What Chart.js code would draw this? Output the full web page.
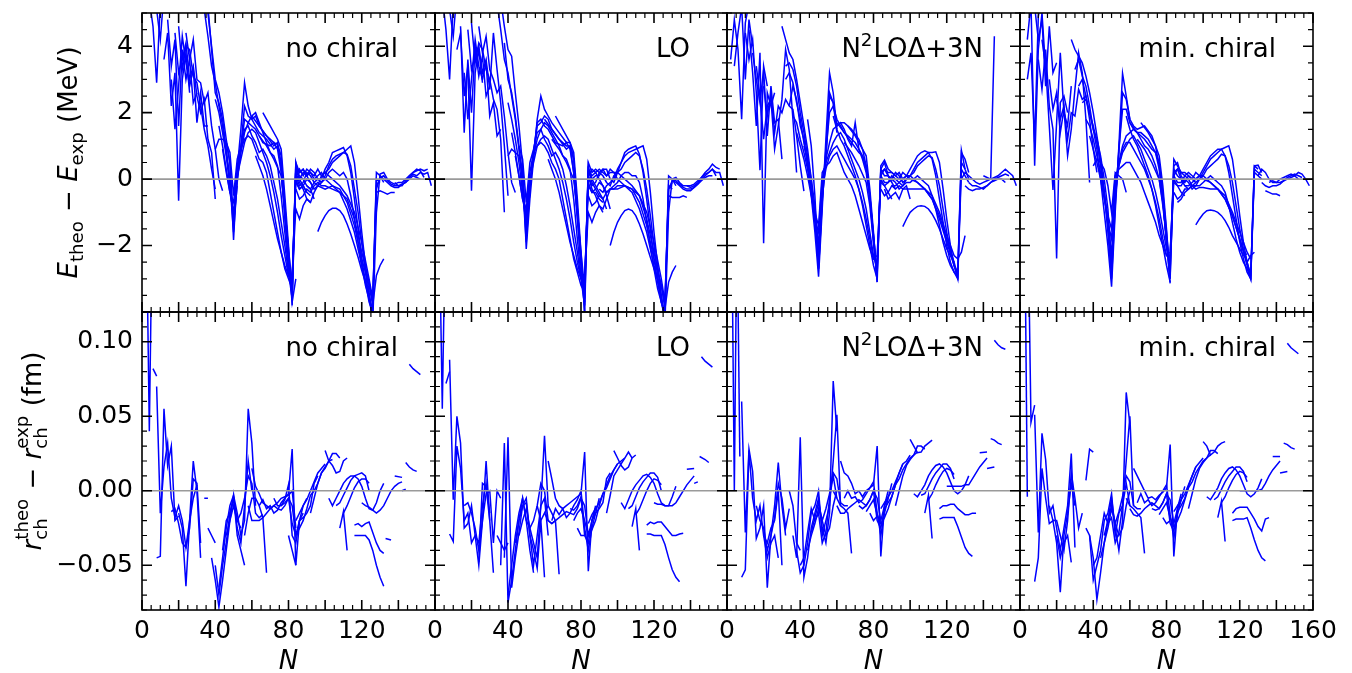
<!DOCTYPE html>
<html>
<head>
<meta charset="utf-8">
<script src="https://cdn.jsdelivr.net/npm/chart.js@4.4.1/dist/chart.umd.min.js"></script>
<style>
  html, body { margin: 0; padding: 0; background: #fff; }
  #fig { position: relative; width: 1352px; height: 673px; overflow: hidden; background: #fff; }
  #fig canvas { position: absolute; }
</style>
</head>
<body>
<div id="fig"></div>
<script>
// one label per column of panels
const panelNames = ['no chiral', 'LO', 'N^2LO\u0394+3N', 'min. chiral'];
const energyTicks = [-2, 0, 2, 4];
const radiusTicks = [-0.05, 0, 0.05, 0.10];
const nTicks = [0, 40, 80, 120];
const nTicksLast = [0, 40, 80, 120, 160];

// E_theo - E_exp (MeV): one flat list [N, value, N, value, ...] per isotopic chain
const energyNoChiral = [
  [4,5.4, 6,4.6, 8,2.9, 10,5.3, 12,5.8],
  [8,5.1, 10,4.2, 12,5.6, 14,6.0],
  [12,3.6, 14,4.4, 16,2.2, 18,3.2, 20,-0.65, 22,3.0, 24,3.8, 26,2.6],
  [14,4.8, 16,3.4, 18,4.2, 20,1.6, 22,3.9, 24,3.0, 26,3.6, 28,2.3, 30,2.6],
  [16,3.0, 18,1.5, 20,2.8, 22,4.3, 24,3.5, 26,2.8, 28,3.3, 30,1.7, 32,2.6, 34,1.6, 36,1.6],
  [18,4.4, 20,3.2, 22,3.6, 24,4.1, 26,3.0, 28,3.4, 30,2.5, 32,2.0, 34,2.4, 36,1.2, 38,0.8, 40,-0.6],
  [20,4.6, 22,3.3, 24,4.0, 26,3.9, 28,3.1, 30,2.9, 32,2.2, 34,1.5, 36,1.0, 38,0.3, 40,-0.3],
  [24,4.4, 26,3.6, 28,4.2, 30,3.0, 32,2.9, 34,2.3, 36,2.6, 38,1.6, 40,0.9, 42,0.0, 44,-0.35],
  [34,5.6, 36,5.0, 38,4.0, 40,3.0, 42,2.6, 44,2.0, 46,1.2, 48,0.5, 50,-1.83, 52,0.3, 54,1.5, 56,2.9, 58,2.2, 60,1.8, 64,1.4, 68,1.2, 72,0.9, 74,1.0, 76,0.5, 78,-0.8, 80,-2.2, 82,-3.7, 84,-3.0],
  [32,5.8, 34,5.1, 36,4.3, 38,3.4, 40,2.9, 42,2.2, 44,1.6, 46,0.8, 48,-0.1, 50,-1.6, 52,-0.1, 54,0.9, 56,1.8, 58,1.7, 60,1.6, 62,1.5, 64,1.3, 66,1.1, 68,1.05, 70,1.0, 72,1.1, 74,0.9, 76,0.2, 78,-1.0, 80,-2.4, 82,-3.4],
  [36,5.2, 38,3.9, 40,2.6, 42,2.3, 44,1.8, 46,0.9, 48,0.0, 50,-1.4, 52,0.2, 54,1.0, 56,2.2, 58,1.9, 60,1.8, 62,1.9, 64,1.6, 68,1.3, 72,1.0, 74,1.1, 76,0.3, 78,-1.2, 80,-2.5, 82,-3.5],
  [40,2.4, 42,2.0, 44,1.4, 46,0.7, 48,-0.2, 50,-1.2, 52,0.0, 54,0.8, 56,1.4, 58,1.7, 60,1.9, 62,2.0, 64,1.7, 68,1.1, 70,0.8, 72,0.7, 74,0.4, 76,-0.5, 78,-1.6, 80,-2.7, 82,-3.3, 84,0.5, 86,0.0, 88,-0.2, 90,-0.4],
  [42,1.6, 44,1.0, 46,0.3, 48,-0.4, 50,-1.0, 52,0.1, 54,0.6, 56,1.1, 58,1.4, 60,1.5, 62,1.4, 64,1.1, 66,0.8, 68,0.5, 70,0.1, 72,-0.4, 74,-1.0, 76,-1.7, 78,-2.3, 80,-2.9, 82,-3.1, 84,0.3, 86,0.1, 88,0.0, 90,-0.2, 92,-0.3, 94,-0.6],
  [44,0.9, 46,0.2, 48,-0.4, 50,-0.7, 52,0.3, 54,0.9, 56,1.2, 58,1.3, 60,1.2, 62,0.9, 64,0.6, 66,0.5, 68,0.2, 70,-0.4, 72,-1.0, 74,-1.6, 76,-2.2, 78,-2.7, 80,-3.0, 82,-3.3, 84,0.4, 86,0.2, 88,0.3, 90,0.1, 92,-0.1, 94,-0.3],
  [46,1.1, 48,0.8, 50,-0.5, 52,0.6, 54,1.0, 56,1.5, 58,1.6, 60,1.3, 62,1.1, 64,0.8, 66,0.9, 68,0.7, 70,0.4, 72,-0.1, 74,-0.6, 76,-1.3, 78,-2.0, 80,-2.8, 82,-3.6, 84,0.2, 86,-0.1, 88,-0.3, 90,-0.6, 92,-0.7],
  [40,0.9, 42,1.2, 44,1.2, 46,1.1, 48,0.5, 50,-1.3, 52,-0.2],
  [62,0.7, 64,0.4, 66,0.1, 68,-0.3, 70,-0.8, 72,-1.3, 74,-1.8, 76,-2.2, 78,-2.6, 80,-2.9, 82,-3.0, 84,0.0, 86,-0.3, 88,-0.2, 90,-0.4, 92,-0.5],
  [66,2.0, 70,1.6, 74,1.2, 76,0.9, 78,-0.5, 80,-2.0, 82,-3.8, 84,0.5, 86,0.2, 88,0.3, 90,0.1, 92,0.2, 94,0.0, 96,0.1, 98,0.2, 100,0.0, 104,-0.2, 108,-0.4, 112,-0.9, 116,-1.6, 120,-2.6, 124,-3.5, 126,-4.2],
  [60,1.9, 64,1.6, 68,1.3, 72,1.1, 74,1.05, 76,0.7, 78,-0.8, 80,-2.3, 82,-3.5, 84,0.3, 86,0.0, 88,0.2, 90,0.1, 92,0.3, 94,0.2, 96,0.0, 98,-0.1, 100,0.1, 102,0.4, 104,0.6, 106,0.7, 108,0.75, 110,0.8, 112,0.9, 114,1.0, 116,0.5, 118,-0.5, 120,-1.6, 122,-2.6, 124,-3.4, 126,-4.1],
  [64,1.3, 68,1.0, 72,0.6, 76,0.1, 78,-0.9, 80,-2.1, 82,-3.2, 84,0.1, 86,-0.2, 88,-0.1, 90,0.2, 92,0.1, 94,-0.1, 96,-0.2, 98,0.1, 100,0.2, 102,0.3, 104,0.5, 106,0.6, 108,0.7, 110,0.8, 112,0.75, 114,0.4, 116,-0.3, 118,-1.0, 120,-1.9, 122,-2.8, 124,-3.6, 126,-4.2],
  [84,0.1, 86,0.3, 88,0.1, 90,0.3, 92,0.2, 94,0.1, 96,0.3, 98,0.1, 100,0.2, 102,0.1, 104,0.0, 108,-0.2, 112,-0.5, 116,-1.0, 120,-1.9, 124,-3.0, 126,-3.6, 128,-0.2, 130,0.0],
  [90,-0.2, 92,-0.3, 94,-0.1, 96,0.0, 98,0.0, 100,0.3, 102,0.5, 104,0.8, 106,0.85, 108,0.9, 110,0.95, 112,0.7, 114,0.2, 116,-0.6, 118,-1.5, 120,-2.4, 122,-3.1, 124,-3.7, 126,-4.0],
  [84,-0.1, 86,-0.3, 88,-0.2, 90,0.0, 92,-0.1, 94,-0.3, 96,-0.2, 98,-0.1, 100,0.0, 102,0.2, 104,0.3, 106,0.2, 108,0.1, 110,0.2, 112,0.0, 114,-0.5, 116,-1.2, 118,-1.9, 120,-2.6, 122,-3.2, 124,-3.6, 126,-3.9, 128,0.2, 130,0.1, 132,-0.1],
  [84,-0.3, 86,-0.6, 88,-0.5, 90,-0.3, 92,-0.4, 94,-0.2, 96,-0.1, 98,-0.2, 100,-0.2, 104,-0.3, 108,-0.4, 112,-0.6, 116,-1.2, 120,-2.2, 124,-3.1, 126,-3.7, 128,0.0, 130,-0.1],
  [82,-2.9, 84,-0.9, 86,-1.2, 88,-0.8, 90,-0.6, 92,-0.7, 94,-0.4, 96,-0.2, 100,-0.3, 104,-0.2, 108,-0.3, 112,-0.7, 116,-1.4, 120,-2.4, 124,-3.2, 126,-3.8, 128,-2.9, 130,-2.6, 132,-2.4],
  [96,-1.58, 98,-1.3, 100,-1.1, 102,-0.95, 104,-0.88, 106,-0.88, 108,-0.95, 110,-1.1, 112,-1.35, 114,-1.65, 116,-2.0, 118,-2.35, 120,-2.75, 122,-3.1, 124,-3.4],
  [126,-4.3, 128,-1.0, 130,0.15, 132,0.2, 134,0.0, 136,-0.1, 138,-0.15, 140,-0.1, 142,-0.1, 144,0.0, 146,0.1, 148,0.2, 150,0.25, 152,0.3, 154,0.25, 156,0.3],
  [126,-3.9, 128,-0.3, 130,0.05, 132,0.1, 134,-0.05, 136,-0.15, 138,-0.2, 140,-0.2, 142,-0.15, 144,-0.1, 146,0.05, 148,0.15, 150,0.1, 152,0.2, 154,0.15, 156,0.2, 158,-0.2],
  [128,-0.4, 130,-0.35, 132,-0.4, 134,-0.45, 136,-0.4, 138,-0.4],
  [130,0.1, 132,0.0, 134,-0.1, 136,-0.2, 138,-0.25, 140,-0.25, 142,-0.15, 144,-0.1, 146,0.0, 148,0.1, 150,0.05, 152,0.0],
  [138,-0.1, 140,-0.2, 142,-0.2, 144,-0.05, 146,0.1, 148,0.2, 150,0.3, 152,0.25, 154,0.05]
];

const energyLO = [
  [4,5.5, 6,4.5, 8,3.0, 10,5.3, 12,5.9],
  [8,5.1, 10,4.3, 12,5.6, 14,6.0],
  [12,3.9, 14,4.4, 16,2.5, 18,3.4, 20,-0.35, 22,3.2, 24,3.9, 26,2.9],
  [14,4.6, 16,1.4, 18,3.6, 20,2.0, 22,4.0, 24,3.1, 26,3.7, 28,2.5, 30,2.8],
  [16,3.2, 18,1.8, 20,3.0, 22,4.2, 24,3.4, 26,3.0, 28,3.5, 30,1.9, 32,2.3, 34,1.3, 36,1.5],
  [18,4.5, 20,3.3, 22,3.7, 24,4.0, 26,3.2, 28,3.6, 30,2.7, 32,4.4, 34,3.3, 36,2.3, 38,1.0, 40,-0.5],
  [20,4.7, 22,3.5, 24,4.1, 26,3.9, 28,3.3, 30,3.0, 32,2.4, 34,2.1, 36,1.2, 38,-1.0],
  [24,4.6, 26,3.8, 28,4.3, 30,3.3, 32,3.0, 34,2.6, 36,2.8, 38,1.9, 40,0.8, 42,-0.1, 44,-0.4],
  [36,5.4, 38,4.6, 40,3.9, 42,3.7, 44,2.6, 46,1.6, 48,0.4, 50,-2.1, 52,-0.6, 54,0.6, 56,1.8, 58,2.5, 60,2.1, 62,1.9, 64,1.7, 68,1.4, 72,1.1, 74,1.1, 76,0.6, 78,-0.9, 80,-2.4, 82,-4.0],
  [32,5.9, 34,5.3, 36,4.5, 38,3.6, 40,3.2, 42,2.5, 44,1.8, 46,0.9, 48,-0.2, 50,-1.9, 52,-0.3, 54,0.8, 56,1.7, 58,1.8, 60,1.6, 62,1.5, 64,1.3, 66,1.1, 68,1.05, 70,1.0, 72,1.1, 74,0.9, 76,0.2, 78,-1.1, 80,-2.5, 82,-3.5],
  [38,4.1, 40,3.0, 42,2.6, 44,1.9, 46,1.0, 48,0.0, 50,-1.7, 52,-0.2, 54,0.8, 56,1.6, 58,1.7, 60,1.9, 62,1.8, 64,1.5, 68,1.2, 72,0.9, 74,1.0, 76,0.2, 78,-1.2, 80,-2.6, 82,-3.7],
  [40,2.3, 42,1.8, 44,1.2, 46,0.5, 48,-0.4, 50,-1.4, 52,-0.1, 54,0.7, 56,1.2, 58,1.5, 60,1.7, 62,1.6, 64,1.4, 68,1.0, 70,0.7, 72,0.6, 74,0.3, 76,-0.6, 78,-1.8, 80,-2.9, 82,-3.4, 84,0.4, 86,-0.1, 88,-0.3, 90,-0.5],
  [42,1.4, 44,0.8, 46,0.1, 48,-0.6, 50,-1.1, 52,0.0, 54,0.5, 56,1.0, 58,1.2, 60,1.3, 62,1.2, 64,0.9, 66,0.6, 68,0.3, 70,-0.1, 72,-0.6, 74,-1.2, 76,-1.9, 78,-2.5, 80,-3.0, 82,-3.2, 84,0.2, 86,0.0, 88,-0.2, 90,-0.4, 92,-0.6, 94,-0.9],
  [44,0.7, 46,0.1, 48,-0.6, 50,-0.9, 52,0.2, 54,0.8, 56,1.0, 58,1.1, 60,1.0, 62,0.8, 64,0.5, 66,0.3, 68,0.0, 70,-0.6, 72,-1.2, 74,-1.8, 76,-2.4, 78,-2.8, 80,-3.2, 82,-3.4, 84,0.3, 86,0.1, 88,0.2, 90,0.0, 92,-0.2, 94,-0.5, 96,-0.9],
  [46,1.0, 48,0.6, 50,-0.7, 52,0.5, 54,0.9, 56,1.4, 58,1.5, 60,1.2, 62,1.0, 64,0.7, 66,0.8, 68,0.6, 70,0.3, 72,-0.2, 74,-0.8, 76,-1.5, 78,-2.2, 80,-3.0, 82,-3.8, 84,0.1, 86,-0.3, 88,-0.5, 90,-0.8, 92,-1.0],
  [40,0.7, 42,0.9, 44,0.8, 46,0.7, 48,0.3, 50,-1.5, 52,-0.4],
  [62,0.6, 64,0.3, 66,0.0, 68,-0.4, 70,-0.9, 72,-1.4, 74,-1.9, 76,-2.3, 78,-2.7, 80,-3.0, 82,-3.1, 84,-0.1, 86,-0.4, 88,-0.4, 90,-0.6, 92,-0.7],
  [66,1.9, 70,1.5, 74,1.1, 76,0.8, 78,-0.6, 80,-2.2, 82,-4.1, 84,0.5, 86,0.2, 88,0.3, 90,0.2, 92,0.3, 94,0.1, 96,0.2, 98,0.2, 100,0.0, 104,-0.2, 108,-0.4, 112,-0.9, 116,-1.6, 120,-2.6, 124,-3.5, 126,-4.3],
  [60,1.8, 64,1.5, 68,1.2, 72,1.0, 74,1.0, 76,0.6, 78,-0.9, 80,-2.4, 82,-3.6, 84,0.3, 86,0.0, 88,0.1, 90,0.1, 92,0.3, 94,0.3, 96,0.0, 98,-0.1, 100,0.2, 102,0.5, 104,0.7, 106,0.8, 108,0.85, 110,0.9, 112,0.95, 114,1.0, 116,0.6, 118,-0.4, 120,-1.6, 122,-2.6, 124,-3.5, 126,-4.2],
  [64,1.2, 68,0.9, 72,0.5, 76,0.0, 78,-1.0, 80,-2.2, 82,-3.3, 84,0.1, 86,-0.2, 88,-0.1, 90,0.2, 92,0.1, 94,-0.1, 96,-0.2, 98,0.1, 100,0.2, 102,0.3, 104,0.5, 106,0.6, 108,0.7, 110,0.8, 112,0.7, 114,0.3, 116,-0.3, 118,-1.1, 120,-2.0, 122,-2.9, 124,-3.7, 126,-4.2],
  [84,0.1, 86,0.3, 88,0.2, 90,0.3, 92,0.2, 94,0.1, 96,0.3, 98,0.2, 100,0.2, 102,0.1, 104,0.0, 108,-0.2, 112,-0.5, 116,-1.0, 120,-1.9, 124,-3.0, 126,-3.7, 128,-0.3, 130,-0.1],
  [90,-0.3, 92,-0.4, 94,-0.2, 96,-0.1, 98,0.0, 100,0.3, 102,0.5, 104,0.8, 106,0.9, 108,0.95, 110,1.0, 112,0.75, 114,0.2, 116,-0.6, 118,-1.5, 120,-2.4, 122,-3.1, 124,-3.7, 126,-4.1],
  [84,-0.2, 86,-0.4, 88,-0.3, 90,-0.1, 92,-0.2, 94,-0.4, 96,-0.3, 98,-0.2, 100,-0.1, 102,0.1, 104,0.2, 106,0.2, 108,0.1, 110,0.1, 112,-0.1, 114,-0.6, 116,-1.3, 118,-2.0, 120,-2.7, 122,-3.3, 124,-3.7, 126,-4.0, 128,0.1, 130,0.0, 132,-0.2],
  [84,-0.5, 86,-0.8, 88,-0.7, 90,-0.5, 92,-0.6, 94,-0.4, 96,-0.3, 98,-0.3, 100,-0.2, 104,-0.2, 108,-0.3, 112,-0.5, 116,-1.2, 120,-2.2, 124,-3.2, 126,-3.8, 128,-0.2, 130,-0.3],
  [82,-3.0, 84,-1.0, 86,-1.3, 88,-1.0, 90,-0.8, 92,-0.9, 94,-0.6, 96,-0.3, 100,-0.3, 104,-0.2, 108,-0.3, 112,-0.7, 116,-1.4, 120,-2.4, 124,-3.2, 126,-3.9, 128,-3.1, 130,-2.8, 132,-2.6],
  [96,-2.0, 98,-1.6, 100,-1.3, 102,-1.1, 104,-0.95, 106,-0.9, 108,-0.95, 110,-1.1, 112,-1.35, 114,-1.65, 116,-2.0, 118,-2.35, 120,-2.7, 122,-3.0, 124,-3.3],
  [126,-4.3, 128,-1.0, 130,0.0, 132,0.05, 134,-0.1, 136,-0.2, 138,-0.2, 140,-0.2, 142,-0.15, 144,-0.05, 146,0.05, 148,0.2, 150,0.3, 152,0.45, 154,0.35, 156,0.3],
  [126,-3.9, 128,-0.3, 130,-0.05, 132,-0.05, 134,-0.15, 136,-0.25, 138,-0.3, 140,-0.3, 142,-0.25, 144,-0.15, 146,0.0, 148,0.1, 150,0.2, 152,0.3, 154,0.2, 156,0.2, 158,-0.2],
  [128,-0.5, 130,-0.55, 132,-0.55, 134,-0.55, 136,-0.5, 138,-0.55],
  [130,-0.05, 132,-0.1, 134,-0.2, 136,-0.3, 138,-0.35, 140,-0.35, 142,-0.25, 144,-0.15, 146,-0.05, 148,0.05, 150,0.1, 152,0.1],
  [138,-0.2, 140,-0.25, 142,-0.2, 144,-0.1, 146,0.05, 148,0.15, 150,0.2, 152,0.3, 154,0.1]
];

const energyN2LO = [
  [2,3.6, 4,4.8, 6,3.9, 8,1.8, 10,4.7, 12,5.3],
  [4,3.4, 6,4.4, 8,5.2, 10,3.0, 12,4.8, 14,4.0],
  [10,4.4, 12,3.6, 14,4.2, 16,2.6, 18,0.27, 20,3.4, 22,2.8],
  [12,4.5, 14,3.2, 16,1.6, 18,3.8, 20,-1.93, 22,2.6, 24,2.2, 26,2.6],
  [14,3.8, 16,3.0, 18,2.3, 20,3.3, 22,1.3, 24,2.8, 26,1.7, 28,1.8, 30,0.6],
  [16,3.4, 18,2.5, 20,1.2, 22,2.2, 24,2.4, 26,0.9, 28,1.6, 30,2.4, 32,3.9, 34,3.3, 36,1.8, 38,0.2],
  [20,2.8, 22,1.9, 24,2.6, 26,1.4, 28,2.2, 30,2.0, 32,2.4, 34,2.2, 36,2.1, 38,1.3, 40,0.4, 42,-0.36],
  [30,4.6, 32,4.2, 34,3.8, 36,3.6, 38,3.0, 40,2.3, 42,1.6, 44,0.9, 46,0.0, 48,-1.2, 50,-2.7, 52,-0.7, 54,0.8, 56,2.0, 58,2.2, 60,1.8, 62,1.6, 64,1.4, 66,1.3, 68,1.2, 70,1.1, 72,0.9, 74,0.7, 76,0.3, 78,-0.5, 80,-1.9, 82,-3.0],
  [32,3.4, 34,3.5, 36,3.3, 38,2.8, 40,2.0, 42,1.4, 44,0.7, 46,-0.5, 48,-1.6, 50,-2.94, 52,-0.9, 54,1.2, 56,3.2, 58,2.6, 60,1.5],
  [32,3.0, 34,3.2, 36,2.9, 38,2.3, 40,1.8, 42,1.1, 44,0.5, 46,-0.4, 48,-1.3, 50,-2.5, 52,-0.5, 54,0.9, 56,2.5, 58,2.3, 60,1.6, 62,1.7, 64,1.7, 68,1.5, 72,1.2, 74,0.9, 76,0.4, 78,-0.5, 80,-1.8, 82,-3.1],
  [34,2.2, 36,2.8, 38,2.4, 40,1.6, 42,1.2, 44,0.4, 46,-0.3, 48,-1.0, 50,-2.0, 52,-0.2, 54,0.6, 56,1.1, 58,1.5, 60,1.6, 62,1.7, 64,1.5, 66,1.2, 68,1.0, 70,1.7, 72,0.9, 74,0.6, 76,0.2, 78,-0.6, 80,-1.7, 82,-2.9],
  [36,1.9, 38,1.7, 40,1.2, 42,0.8, 44,0.3, 46,-0.4, 48,-1.2, 50,-1.6, 52,0.0, 54,0.5, 56,0.8, 58,1.1, 60,1.3, 62,1.4, 64,1.2, 66,0.9, 68,0.6, 70,0.3, 72,0.0, 74,-0.4, 76,-0.9, 78,-1.6, 80,-2.3, 82,-2.7, 84,0.3, 86,0.5, 88,0.1, 90,-0.1],
  [38,1.4, 40,1.0, 42,0.6, 44,0.1, 46,-0.5, 48,-1.0, 50,-1.4, 52,0.2, 54,0.4, 56,0.5, 58,0.7, 60,0.8, 62,0.5, 64,0.2, 66,0.0, 68,-0.2, 70,-0.5, 72,-0.9, 74,-1.3, 76,-1.7, 78,-2.1, 80,-2.4, 82,-2.5, 84,0.2, 86,0.3, 88,0.1, 90,-0.1, 92,-0.3],
  [42,1.0, 44,0.6, 46,0.0, 48,-0.8, 50,-2.2, 52,-0.3, 54,0.3, 56,0.7, 58,0.9, 60,1.0, 62,0.8, 64,0.6, 66,0.4, 68,0.2, 70,0.0, 72,-0.3, 74,-0.7, 76,-1.2, 78,-1.8, 80,-2.4, 82,-2.3, 84,0.0, 86,-0.2, 88,-0.4, 90,-0.6],
  [44,1.8, 46,1.0, 48,-0.5, 50,-2.7, 52,-0.6, 54,0.5, 56,2.6, 58,2.3, 60,1.4],
  [58,1.9, 60,1.5, 62,1.2, 64,1.0, 66,0.7, 68,0.4, 70,0.1, 72,-0.3, 74,-0.8, 76,-1.4, 78,-2.0, 80,-2.6, 82,-3.0],
  [66,1.6, 70,1.3, 74,0.9, 76,0.7, 78,-0.3, 80,-1.6, 82,-3.1, 84,0.4, 86,0.57, 88,0.3, 90,0.2, 92,0.1, 94,0.2, 96,0.0, 98,0.1, 100,0.0, 104,-0.1, 108,-0.3, 112,-0.6, 116,-1.2, 120,-1.9, 124,-2.6, 126,-3.0, 128,0.8, 130,0.6, 132,0.2],
  [60,1.7, 64,1.4, 68,1.1, 72,0.8, 74,0.7, 76,0.4, 78,-0.5, 80,-1.7, 82,-2.9, 84,0.3, 86,0.1, 88,0.1, 90,0.0, 92,0.2, 94,0.1, 96,-0.1, 98,0.0, 100,0.1, 102,0.3, 104,0.5, 106,0.6, 108,0.7, 110,0.8, 112,0.8, 114,0.82, 116,0.5, 118,-0.3, 120,-1.2, 122,-2.0, 124,-2.6, 126,-2.9, 128,0.87, 130,0.3, 132,0.0],
  [64,1.1, 68,0.8, 72,0.4, 76,-0.1, 78,-0.8, 80,-1.9, 82,-2.8, 84,0.1, 86,-0.1, 88,-0.1, 90,0.1, 92,0.0, 94,-0.1, 96,-0.2, 98,0.0, 100,0.1, 102,0.2, 104,0.4, 106,0.5, 108,0.6, 110,0.7, 112,0.65, 114,0.3, 116,-0.2, 118,-0.9, 120,-1.6, 122,-2.2, 124,-2.6, 126,-2.8],
  [84,0.1, 86,0.3, 88,0.2, 90,0.2, 92,0.1, 94,0.0, 96,0.2, 98,0.1, 100,0.1, 102,0.0, 104,-0.1, 108,-0.3, 112,-0.6, 116,-1.1, 120,-1.8, 124,-2.5, 126,-2.9, 128,0.5, 130,0.3],
  [90,-0.2, 92,-0.2, 94,-0.1, 96,0.0, 98,0.1, 100,0.3, 102,0.5, 104,0.7, 106,0.8, 108,0.85, 110,0.8, 112,0.6, 114,0.1, 116,-0.6, 118,-1.3, 120,-2.0, 122,-2.5, 124,-2.8, 126,-2.9],
  [84,-0.1, 86,-0.2, 88,-0.1, 90,0.0, 92,-0.1, 94,-0.3, 96,-0.2, 98,-0.1, 100,-0.1, 102,0.0, 104,0.1, 106,0.0, 108,-0.1, 110,-0.2, 112,-0.5, 114,-0.9, 116,-1.4, 118,-1.9, 120,-2.3, 122,-2.6, 124,-2.8, 126,-3.0, 128,0.3, 130,0.1, 132,-0.1],
  [84,-0.3, 86,-0.5, 88,-0.4, 90,-0.2, 92,-0.3, 94,-0.2, 96,-0.3, 98,-0.3, 100,-0.3, 104,-0.3, 108,-0.3, 112,-0.5, 116,-1.0, 120,-1.7, 124,-2.3, 126,-2.4, 128,-2.2, 130,-1.7],
  [86,-0.3, 88,-0.6, 90,-0.5, 92,-0.4, 94,-0.6, 96,-0.3, 98,-0.2, 100,-0.6],
  [96,-1.43, 98,-1.2, 100,-1.0, 102,-0.9, 104,-0.82, 106,-0.8, 108,-0.82, 110,-0.9, 112,-1.05, 114,-1.25, 116,-1.5, 118,-1.8, 120,-2.1, 122,-2.3, 124,-2.5],
  [128,0.0, 130,0.2, 132,0.1, 134,0.0, 136,-0.1, 138,-0.15, 140,-0.1, 142,-0.05, 144,0.0, 146,0.05, 148,0.1, 150,0.2, 152,0.3, 154,0.2, 156,0.1, 158,-0.2],
  [130,-0.2, 132,-0.3, 134,-0.35, 136,-0.3, 138,-0.3, 140,-0.25, 142,-0.2, 144,-0.1, 146,0.0, 148,0.05, 150,0.1, 152,0.15, 154,0.1],
  [132,-0.1, 134,-0.2, 136,-0.2, 138,-0.25, 140,-0.3, 142,-0.2, 144,-0.1, 146,-0.05, 148,0.0, 150,0.0, 152,-0.1],
  [140,0.1, 142,0.05, 144,0.0, 146,4.3]
];

const energyMinChiral = [
  [4,3.0, 6,3.8, 8,1.1, 10,4.9, 12,5.5],
  [4,4.2, 6,5.3, 8,0.4, 10,3.9, 12,5.0, 14,3.3],
  [8,5.2, 10,4.2, 12,4.8, 14,2.8, 16,4.6, 18,3.2, 20,3.5],
  [10,3.6, 12,2.7, 14,3.9, 16,2.2, 18,1.5, 20,-2.39, 22,2.3, 24,2.5, 26,2.0],
  [12,4.2, 14,3.4, 16,1.6, 18,-0.33, 20,1.7, 22,3.8, 24,2.0, 26,1.6, 28,2.8],
  [16,3.0, 18,2.1, 20,2.6, 22,1.4, 24,2.1, 26,0.7, 28,1.5, 30,2.7, 32,3.8, 34,3.2, 36,1.8, 38,-0.1],
  [20,2.4, 22,1.8, 24,2.2, 26,1.2, 28,2.0, 30,1.9, 32,2.7, 34,2.4, 36,2.5, 38,1.8, 40,0.9, 42,0.2],
  [28,4.2, 30,3.9, 32,3.7, 34,3.5, 36,3.1, 38,2.6, 40,2.0, 42,1.3, 44,0.6, 46,-0.4, 48,-1.6, 50,-3.0, 52,-0.8, 54,0.9, 56,2.1, 58,2.1, 60,1.7, 62,1.5, 64,1.4, 66,1.4, 68,1.3, 70,1.2, 72,1.0, 74,0.8, 76,0.3, 78,-0.6, 80,-1.9, 82,-3.0],
  [30,3.3, 32,3.6, 34,3.1, 36,2.8, 38,2.2, 40,1.5, 42,0.9, 44,0.0, 46,-1.0, 48,-2.0, 50,-3.24, 52,-1.0, 54,1.0, 56,3.18, 58,2.5, 60,1.8],
  [32,2.8, 34,3.0, 36,2.5, 38,2.0, 40,1.6, 42,1.1, 44,0.5, 46,-0.4, 48,-1.4, 50,-2.8, 52,-0.6, 54,0.8, 56,2.6, 58,2.4, 60,1.8, 62,1.6, 64,1.5, 68,1.6, 72,1.3, 74,1.0, 76,0.4, 78,-0.6, 80,-1.9, 82,-3.14],
  [34,2.3, 36,2.4, 38,2.0, 40,1.5, 42,1.2, 44,0.4, 46,-0.4, 48,-1.2, 50,-2.3, 52,-0.3, 54,0.5, 56,1.0, 58,1.3, 60,1.4, 62,1.5, 64,1.4, 66,1.2, 68,1.0, 70,0.9, 72,0.7, 74,0.4, 76,0.0, 78,-0.8, 80,-1.8, 82,-2.9],
  [36,1.8, 38,1.6, 40,1.2, 42,0.7, 44,0.2, 46,-0.5, 48,-1.3, 50,-1.8, 52,-0.1, 54,0.4, 56,0.8, 58,1.0, 60,1.2, 62,1.3, 64,1.1, 66,0.9, 68,0.6, 70,0.3, 72,0.0, 74,-0.4, 76,-0.9, 78,-1.5, 80,-2.1, 82,-2.4, 84,0.4, 86,0.5, 88,0.1, 90,-0.1],
  [38,1.3, 40,0.9, 42,0.5, 44,0.0, 46,-0.6, 48,-1.1, 50,-1.5, 52,0.1, 54,0.3, 56,0.4, 58,0.5, 60,0.5, 62,0.3, 64,0.1, 66,-0.1, 68,-0.4, 70,-0.7, 72,-1.0, 74,-1.3, 76,-1.7, 78,-2.0, 80,-2.3, 82,-2.3, 84,0.2, 86,0.3, 88,0.0, 90,-0.2, 92,-0.3],
  [42,1.2, 44,0.7, 46,0.0, 48,-0.9, 50,-2.6, 52,-0.5, 54,0.4, 56,0.9, 58,1.1, 60,1.1, 62,0.9, 64,0.7, 66,0.5, 68,0.3, 70,0.0, 72,-0.3, 74,-0.7, 76,-1.2, 78,-1.8, 80,-2.3, 82,-2.2, 84,0.0, 86,-0.2, 88,-0.4, 90,-0.5],
  [40,0.4, 42,0.6, 44,0.5, 46,0.3, 48,-0.2, 50,-1.0, 52,0.2, 54,0.1, 56,0.0, 58,-0.4],
  [58,1.9, 60,1.5, 62,1.2, 64,1.0, 66,0.7, 68,0.4, 70,0.1, 72,-0.3, 74,-0.8, 76,-1.4, 78,-2.0, 80,-2.6, 82,-3.1],
  [66,1.7, 70,1.4, 74,1.0, 76,0.7, 78,-0.2, 80,-1.5, 82,-3.0, 84,0.6, 86,0.4, 88,0.2, 90,0.1, 92,0.2, 94,0.1, 96,0.0, 98,0.1, 100,0.0, 104,-0.1, 108,-0.3, 112,-0.6, 116,-1.1, 120,-1.8, 124,-2.6, 126,-3.0, 128,0.4, 130,0.42, 132,0.2],
  [60,1.7, 64,1.4, 68,1.2, 72,0.9, 74,0.8, 76,0.5, 78,-0.4, 80,-1.6, 82,-2.9, 84,0.3, 86,0.1, 88,0.0, 90,-0.1, 92,0.1, 94,0.0, 96,-0.1, 98,0.0, 100,0.2, 102,0.4, 104,0.6, 106,0.7, 108,0.8, 110,0.9, 112,0.95, 114,1.0, 116,0.6, 118,-0.2, 120,-1.1, 122,-1.9, 124,-2.5, 126,-2.9, 128,0.3, 130,0.2, 132,0.1],
  [64,1.2, 68,0.9, 72,0.5, 76,0.0, 78,-0.7, 80,-1.8, 82,-2.7, 84,0.1, 86,-0.1, 88,-0.1, 90,0.1, 92,0.0, 94,-0.2, 96,-0.2, 98,0.0, 100,0.1, 102,0.3, 104,0.4, 106,0.5, 108,0.6, 110,0.75, 112,0.7, 114,0.4, 116,-0.1, 118,-0.8, 120,-1.5, 122,-2.1, 124,-2.5, 126,-2.3, 128,-2.2],
  [84,0.1, 86,0.3, 88,0.2, 90,0.2, 92,0.1, 94,0.0, 96,0.2, 98,0.1, 100,0.1, 102,0.0, 104,-0.1, 108,-0.3, 112,-0.6, 116,-1.1, 120,-1.8, 124,-2.5, 126,-2.9, 128,0.4, 130,0.3],
  [90,-0.2, 92,-0.2, 94,-0.1, 96,0.0, 98,0.1, 100,0.3, 102,0.5, 104,0.7, 106,0.8, 108,0.9, 110,0.9, 112,0.7, 114,0.2, 116,-0.5, 118,-1.2, 120,-1.9, 122,-2.4, 124,-2.8, 126,-3.0],
  [84,-0.1, 86,-0.2, 88,-0.2, 90,0.0, 92,-0.1, 94,-0.3, 96,-0.2, 98,-0.2, 100,-0.1, 102,0.0, 104,0.1, 106,0.0, 108,-0.1, 110,-0.2, 112,-0.4, 114,-0.8, 116,-1.3, 118,-1.8, 120,-2.2, 122,-2.5, 124,-2.7, 126,-3.0, 128,0.2, 130,0.1, 132,0.0],
  [84,-0.4, 86,-0.6, 88,-0.5, 90,-0.3, 92,-0.3, 94,-0.2, 96,-0.3, 98,-0.25, 100,-0.25, 104,-0.3, 108,-0.3, 112,-0.5, 116,-1.0, 120,-1.6, 124,-2.2, 126,-2.4],
  [86,-0.7, 88,-0.6, 90,-0.4, 92,-0.3, 94,-0.2, 96,-0.1],
  [96,-1.38, 98,-1.2, 100,-1.05, 102,-0.95, 104,-0.93, 106,-0.95, 108,-1.0, 110,-1.1, 112,-1.25, 114,-1.45, 116,-1.7, 118,-1.9, 120,-2.1, 122,-2.3, 124,-2.25],
  [130,0.1, 132,0.3, 134,0.2, 136,0.0, 138,-0.1, 140,-0.1, 142,0.0, 144,0.05, 146,0.1, 148,0.15, 150,0.1, 152,0.2, 154,0.15, 156,0.0, 158,-0.2],
  [132,-0.1, 134,-0.2, 136,-0.25, 138,-0.2, 140,-0.2, 142,-0.15, 144,-0.05, 146,0.0, 148,0.05, 150,0.1, 152,0.0],
  [134,-0.35, 136,-0.4, 138,-0.45, 140,-0.45, 142,-0.5],
  [136,-0.1, 138,-0.05, 140,-0.1, 142,-0.1, 144,-0.05, 146,0.05, 148,0.1, 150,0.15, 152,0.1, 154,0.05]
];

// r_ch^theo - r_ch^exp (fm): one flat list [N, value, ...] per isotopic chain
const radiusNoChiral = [
  [3,0.13, 4,0.04, 5,0.13],
  [6,0.082, 8,0.077],
  [8,-0.045, 10,-0.044, 12,0.055, 14,0.017, 16,0.03, 18,-0.02, 20,-0.017],
  [8,0.07, 10,-0.015, 12,0.016, 14,0.032, 16,-0.005, 18,-0.018, 20,-0.01, 22,-0.02, 24,-0.038, 26,-0.02, 28,0.02, 30,0.0, 32,-0.045],
  [16,-0.014, 18,-0.012, 20,-0.022, 22,-0.035, 24,-0.038, 26,-0.025, 28,0.008, 30,0.005, 32,-0.035],
  [20,-0.015, 22,-0.025, 24,-0.064, 26,-0.02, 28,-0.005, 30,0.004],
  [34,-0.005, 36,-0.005],
  [36,-0.025, 38,-0.03, 40,-0.035],
  [38,-0.045, 40,-0.06, 42,-0.078, 44,-0.06, 46,-0.04, 48,-0.02, 50,-0.003, 52,-0.03, 54,-0.04, 56,-0.05],
  [40,-0.05, 42,-0.07, 44,-0.05, 46,-0.035, 48,-0.015, 50,-0.005, 52,-0.02, 54,-0.025],
  [42,-0.065, 44,-0.045, 46,-0.025, 48,-0.01, 50,-0.003, 52,-0.015, 54,-0.03, 56,-0.02, 58,0.055, 60,0.032, 62,-0.01],
  [44,-0.04, 46,-0.02, 48,-0.015, 50,-0.005, 52,-0.025, 54,-0.035, 56,-0.01, 58,0.02, 60,0.0],
  [46,-0.03, 48,-0.02, 50,-0.01, 52,-0.02, 54,-0.015, 56,-0.005, 58,0.01, 60,0.005, 62,-0.015, 64,-0.018, 66,-0.016],
  [56,-0.03, 58,-0.015, 60,-0.005, 62,-0.005, 64,-0.01, 66,-0.018, 68,-0.055],
  [60,0.015, 62,0.003, 64,-0.002, 66,-0.008, 68,-0.01, 70,-0.012, 72,-0.01, 74,-0.008, 76,-0.005, 78,-0.004, 80,-0.003, 82,0.0, 84,-0.025],
  [58,-0.01, 60,-0.02, 62,-0.02, 64,-0.02, 66,-0.018, 68,-0.015, 70,-0.012, 72,-0.01, 74,-0.012, 76,-0.013, 78,-0.01, 80,-0.005, 82,-0.01, 84,-0.03, 86,-0.02, 88,-0.015],
  [64,-0.01, 66,-0.006, 68,-0.012, 70,-0.01, 72,-0.015, 74,-0.013, 76,-0.008, 78,-0.005, 80,-0.002, 82,0.028, 84,-0.05, 86,-0.02, 88,-0.01, 90,-0.005],
  [72,-0.005, 74,-0.01, 76,-0.01, 78,-0.006, 80,0.004, 82,-0.03, 84,-0.035, 86,-0.02, 88,-0.018, 90,-0.015, 92,-0.01, 94,0.005, 96,0.01],
  [76,-0.01, 78,-0.008, 80,-0.005, 82,-0.022, 84,-0.03, 86,-0.025, 88,-0.02, 90,-0.012, 92,-0.003, 94,0.0, 96,0.005, 98,0.012, 100,0.016, 102,0.02, 104,0.021],
  [80,-0.03, 82,-0.04, 84,-0.05],
  [84,-0.02, 86,-0.015, 88,-0.01, 90,-0.006, 92,0.0, 94,0.006, 96,0.012, 98,0.015, 100,0.018],
  [92,-0.015, 94,-0.005, 96,0.005, 98,0.012, 100,0.015, 102,0.02, 104,0.025, 106,0.025, 108,0.022],
  [100,0.027, 102,0.02, 104,0.017, 106,0.012, 108,0.013, 110,0.02, 112,0.022],
  [108,-0.025, 110,-0.014, 112,-0.04],
  [102,-0.005, 104,-0.01, 106,-0.005, 108,0.0, 110,0.005, 112,0.008, 114,0.01, 116,0.01, 118,0.008, 120,0.003, 122,-0.005, 124,-0.012, 126,-0.013, 128,-0.008, 130,0.0, 132,0.005],
  [106,-0.01, 108,-0.008, 110,-0.003, 112,0.002, 114,0.007, 116,0.01, 118,0.011, 120,0.012, 122,0.01, 124,0.0],
  [110,-0.015, 112,-0.01, 114,-0.004, 116,0.002, 118,0.006, 120,0.008, 122,0.008, 124,0.005],
  [116,-0.023, 118,-0.022, 120,-0.024, 122,-0.022, 124,-0.021, 126,-0.028, 128,-0.035, 130,-0.04, 132,-0.042],
  [116,-0.03, 118,-0.03, 120,-0.03, 122,-0.03, 124,-0.033, 126,-0.04, 128,-0.05, 130,-0.058, 132,-0.064],
  [120,-0.008, 122,-0.01, 124,-0.011, 126,-0.013, 128,-0.015, 130,-0.013, 132,-0.01, 134,-0.005, 136,0.0, 138,0.003, 140,0.005, 142,0.006],
  [133,-0.032, 136,-0.033],
  [138,0.01, 142,0.009],
  [142,0.0, 144,0.001],
  [144,0.019, 146,0.016, 148,0.014, 150,0.013],
  [146,0.085, 148,0.082, 150,0.08, 152,0.078]
];

const radiusLO = [
  [3,0.13, 4,0.055, 5,0.13],
  [6,0.072, 8,0.08],
  [8,0.088, 10,-0.006, 12,0.05, 14,0.032, 16,-0.025, 18,-0.022, 20,-0.01, 22,-0.03, 24,-0.05, 26,-0.02, 28,0.02, 30,-0.02, 32,-0.055],
  [8,-0.029, 10,-0.034, 12,0.03, 14,0.015, 16,-0.02, 18,-0.015, 20,-0.035, 22,-0.03, 24,-0.035, 26,-0.01, 28,0.005, 30,-0.015],
  [16,-0.01, 18,-0.008, 20,-0.015, 22,-0.025, 24,-0.04, 26,-0.02, 28,-0.002, 30,0.0, 32,-0.035, 34,0.0, 36,-0.005],
  [24,-0.048, 26,0.005, 28,0.003, 30,-0.02],
  [34,-0.03, 36,-0.035, 38,-0.04, 40,-0.035],
  [36,-0.05, 38,0.032, 40,-0.075, 42,-0.06, 44,-0.04, 46,-0.02, 48,-0.005, 50,-0.02, 52,-0.04, 54,-0.055],
  [38,-0.045, 40,0.036, 42,-0.065, 44,-0.045, 46,-0.028, 48,-0.01, 50,-0.008, 52,-0.03, 54,-0.05, 56,-0.03, 58,-0.01, 60,0.037, 62,-0.01],
  [40,-0.07, 42,-0.05, 44,-0.03, 46,-0.015, 48,-0.005, 50,-0.02, 52,-0.025, 54,-0.035, 56,-0.045, 58,-0.01, 60,-0.005, 62,-0.03],
  [44,-0.035, 46,-0.02, 48,-0.01, 50,-0.005, 52,-0.03, 54,-0.04, 56,-0.052, 58,-0.02, 60,-0.058],
  [46,-0.03, 48,-0.02, 50,-0.012, 52,-0.025, 54,-0.02, 56,-0.01, 58,0.005, 60,0.0, 62,-0.02, 64,-0.022, 66,-0.02],
  [56,-0.01, 58,-0.02, 60,-0.015, 62,-0.01, 64,-0.015, 66,-0.02, 68,-0.056],
  [62,0.02, 64,0.008, 66,-0.005, 68,-0.01, 70,-0.012, 72,-0.01, 74,-0.008, 76,-0.006, 78,-0.004, 80,-0.002, 82,0.026, 84,-0.054, 86,-0.02, 88,-0.01],
  [60,-0.015, 62,-0.02, 64,-0.022, 66,-0.02, 68,-0.018, 70,-0.016, 72,-0.014, 74,-0.015, 76,-0.016, 78,-0.012, 80,-0.005, 82,-0.01, 84,-0.03, 86,-0.02, 88,-0.012],
  [64,-0.02, 66,-0.012, 68,-0.016, 70,-0.012, 72,-0.018, 74,-0.015, 76,-0.01, 78,-0.006, 80,0.0, 82,-0.025, 84,-0.04, 86,-0.025, 88,-0.015, 90,-0.005],
  [74,-0.012, 76,-0.013, 78,-0.01, 80,-0.004, 82,-0.03, 84,-0.035, 86,-0.02, 88,-0.015, 90,-0.012, 92,-0.008, 94,0.008, 96,0.012],
  [76,-0.02, 78,-0.015, 80,-0.012, 82,-0.02, 84,-0.03, 86,-0.026, 88,-0.02, 90,-0.01, 92,-0.002, 94,0.002, 96,0.008, 98,0.014, 100,0.018, 102,0.02, 104,0.022],
  [78,-0.025, 80,-0.03, 82,-0.03],
  [84,-0.022, 86,-0.016, 88,-0.012, 90,-0.008, 92,-0.002, 94,0.004, 96,0.01, 98,0.014, 100,0.018],
  [94,-0.015, 96,-0.003, 98,0.01, 100,0.014, 102,0.018, 104,0.022, 106,0.026, 108,0.022],
  [98,0.027, 100,0.022, 102,0.017, 104,0.014, 106,0.016, 108,0.022, 110,0.024],
  [108,-0.024, 110,-0.012, 112,-0.04],
  [102,-0.008, 104,-0.012, 106,-0.006, 108,0.0, 110,0.004, 112,0.007, 114,0.01, 116,0.011, 118,0.009, 120,0.005, 122,-0.002, 124,-0.008, 126,-0.01, 128,-0.01, 130,-0.004, 132,0.003],
  [106,-0.012, 108,-0.01, 110,-0.004, 112,0.002, 114,0.006, 116,0.009, 118,0.012, 120,0.012, 122,0.009, 124,0.0],
  [110,-0.016, 112,-0.012, 114,-0.006, 116,0.0, 118,0.005, 120,0.008, 122,0.007, 124,0.004],
  [116,-0.023, 118,-0.021, 120,-0.022, 122,-0.021, 124,-0.021, 126,-0.024, 128,-0.027, 130,-0.03, 132,-0.03, 134,-0.029, 136,-0.0285],
  [116,-0.029, 118,-0.029, 120,-0.03, 122,-0.03, 124,-0.03, 126,-0.036, 128,-0.045, 130,-0.053, 132,-0.058, 134,-0.061],
  [120,-0.008, 122,-0.009, 124,-0.009, 126,-0.01, 128,-0.01, 130,-0.01, 132,-0.008, 134,-0.004, 136,0.0, 138,0.004, 140,0.007, 142,0.01],
  [138,0.0145, 142,0.015],
  [142,0.005, 144,0.006],
  [145,0.023, 148,0.021, 150,0.019],
  [146,0.09, 148,0.087, 150,0.085, 152,0.083]
];

const radiusN2LO = [
  [3,0.13, 4,0.0, 5,0.13],
  [6,0.13, 7,0.023],
  [8,0.06, 10,-0.028, 12,0.028, 14,0.013, 16,-0.032, 18,-0.025, 20,-0.01, 22,-0.065, 24,-0.03, 26,-0.01, 28,0.019, 30,-0.01, 32,-0.03],
  [8,-0.058, 10,-0.053, 12,0.027, 14,-0.005, 16,-0.02, 18,-0.01, 20,-0.03, 22,-0.035, 24,-0.025, 26,-0.02, 28,0.0, 30,-0.05],
  [16,-0.01, 18,-0.02, 20,-0.025, 22,-0.04, 24,-0.03, 26,-0.018, 28,0.005, 30,-0.005, 32,-0.025, 34,-0.012],
  [20,-0.03, 22,-0.045, 24,-0.035, 26,-0.03, 28,-0.045],
  [34,0.0, 36,-0.01, 38,-0.035, 40,-0.04],
  [36,-0.03, 38,-0.045, 40,0.036, 42,-0.058, 44,-0.045, 46,-0.025, 48,-0.015, 50,-0.005, 52,-0.025, 54,-0.035, 56,-0.015, 58,0.0736, 60,0.04],
  [38,-0.04, 40,-0.055, 42,-0.05, 44,-0.035, 46,-0.015, 48,-0.01, 50,0.0, 52,-0.03, 54,-0.02, 56,-0.01, 58,0.02, 60,0.051, 62,-0.01],
  [40,-0.05, 42,-0.045, 44,-0.028, 46,-0.012, 48,-0.02, 50,-0.015, 52,-0.035, 54,-0.028, 56,-0.005, 58,0.01, 60,-0.005],
  [44,-0.04, 46,-0.03, 48,-0.022, 50,-0.012, 52,-0.02, 54,-0.03, 56,-0.025, 58,-0.01, 60,0.0],
  [46,-0.028, 48,-0.018, 50,-0.008, 52,-0.02, 54,-0.012, 56,-0.002, 58,0.012, 60,0.008, 62,-0.008, 64,-0.01, 66,-0.01],
  [58,0.0, 60,-0.005, 62,-0.01, 64,-0.012, 66,-0.015, 68,-0.042],
  [62,0.02, 64,0.012, 66,0.01, 68,0.005, 70,-0.002, 72,0.0, 74,-0.004, 76,0.0, 78,0.002, 80,0.004, 82,0.03, 84,-0.044, 86,-0.01, 88,0.0],
  [60,-0.01, 62,-0.015, 64,-0.015, 66,-0.012, 68,-0.01, 70,-0.008, 72,-0.006, 74,-0.008, 76,-0.01, 78,-0.006, 80,0.0, 82,-0.005, 84,-0.02, 86,-0.01, 88,-0.005],
  [64,-0.005, 66,0.0, 68,-0.005, 70,-0.004, 72,-0.008, 74,-0.006, 76,-0.002, 78,0.002, 80,0.006, 82,-0.015, 84,-0.03, 86,-0.015, 88,-0.005, 90,0.005],
  [72,-0.01, 74,-0.012, 76,-0.01, 78,-0.006, 80,0.0, 82,-0.02, 84,-0.025, 86,-0.012, 88,-0.008, 90,-0.004, 92,0.004, 94,0.012, 96,0.018],
  [76,-0.014, 78,-0.01, 80,-0.006, 82,-0.016, 84,-0.022, 86,-0.018, 88,-0.012, 90,-0.004, 92,0.004, 94,0.008, 96,0.014, 98,0.018, 100,0.022, 104,0.026],
  [78,-0.015, 80,-0.02, 82,-0.017],
  [84,-0.012, 86,-0.008, 88,-0.004, 90,0.0, 92,0.006, 94,0.012, 96,0.018, 98,0.02, 100,0.024],
  [92,-0.01, 94,0.0, 96,0.01, 98,0.017, 100,0.021, 102,0.024, 104,0.03, 106,0.03, 108,0.028],
  [100,0.0345, 102,0.03, 104,0.0256, 106,0.026, 108,0.03, 110,0.032, 112,0.034],
  [108,-0.015, 110,-0.003, 112,-0.032],
  [102,-0.002, 104,-0.004, 106,0.0, 108,0.004, 110,0.01, 112,0.014, 114,0.017, 116,0.018, 118,0.016, 120,0.012, 122,0.006, 124,0.0, 126,-0.002, 128,0.0, 130,0.004, 132,0.01],
  [106,-0.003, 108,-0.002, 110,0.003, 112,0.008, 114,0.012, 116,0.015, 118,0.018, 120,0.018, 122,0.015, 124,0.008],
  [110,-0.006, 112,-0.002, 114,0.004, 116,0.009, 118,0.013, 120,0.015, 122,0.014, 124,0.011],
  [116,-0.012, 118,-0.01, 120,-0.01, 122,-0.009, 124,-0.009, 126,-0.012, 128,-0.014, 130,-0.016, 132,-0.016, 134,-0.015, 136,-0.015],
  [116,-0.019, 118,-0.018, 120,-0.018, 122,-0.018, 124,-0.018, 126,-0.024, 128,-0.031, 130,-0.038, 132,-0.042, 134,-0.044],
  [120,0.003, 122,0.003, 124,0.003, 126,0.003, 128,0.003, 130,0.004, 132,0.004, 134,0.008, 136,0.012, 138,0.016, 140,0.019, 142,0.022],
  [138,0.0256, 142,0.026],
  [142,0.015, 146,0.016],
  [144,0.035, 146,0.034, 148,0.032, 150,0.031],
  [146,0.101, 148,0.098, 150,0.096, 152,0.095]
];

const radiusMinChiral = [
  [3,0.13, 4,-0.004],
  [5,0.13, 6,0.046, 8,0.0575],
  [8,0.051, 10,-0.028, 12,0.0386, 14,0.021, 16,-0.015, 18,-0.01, 20,-0.025, 22,-0.04, 24,-0.025, 26,-0.01, 28,0.025, 30,-0.038],
  [8,-0.061, 10,-0.045, 12,0.015, 14,-0.005, 16,-0.022, 18,-0.02, 20,-0.035, 22,-0.068, 24,-0.03, 26,-0.015, 28,0.005, 30,-0.01],
  [16,-0.01, 18,-0.02, 20,-0.02, 22,-0.03, 24,-0.04, 26,-0.02, 28,0.012, 30,-0.005, 32,-0.025, 34,-0.015],
  [20,-0.03, 22,-0.045, 24,-0.035, 26,-0.03, 28,-0.048],
  [36,0.007, 38,0.028, 40,0.026],
  [36,-0.025, 38,-0.03, 40,-0.045, 42,-0.073, 44,-0.055, 46,-0.035, 48,-0.02, 50,-0.005, 52,-0.025, 54,-0.04, 56,-0.02, 58,0.066, 60,0.045],
  [38,-0.03, 40,-0.06, 42,-0.05, 44,-0.04, 46,-0.02, 48,-0.015, 50,-0.002, 52,-0.03, 54,-0.015, 56,-0.01, 58,0.02, 60,0.05, 62,-0.01],
  [40,-0.05, 42,-0.045, 44,-0.03, 46,-0.015, 48,-0.022, 50,-0.018, 52,-0.035, 54,-0.028, 56,-0.01, 58,0.005, 60,-0.01],
  [44,-0.045, 46,-0.035, 48,-0.025, 50,-0.012, 52,-0.022, 54,-0.03, 56,-0.025, 58,-0.01, 60,0.0],
  [46,-0.03, 48,-0.02, 50,-0.01, 52,-0.022, 54,-0.014, 56,-0.004, 58,0.01, 60,0.006, 62,-0.01, 64,-0.012, 66,-0.012],
  [58,-0.005, 60,-0.01, 62,-0.012, 64,-0.015, 66,-0.018, 68,-0.042],
  [62,0.015, 64,0.01, 66,0.005, 68,0.0, 70,-0.005, 72,-0.004, 74,-0.006, 76,-0.003, 78,-0.001, 80,0.002, 82,0.031, 84,-0.044, 86,-0.012, 88,-0.002],
  [60,-0.012, 62,-0.016, 64,-0.017, 66,-0.015, 68,-0.012, 70,-0.01, 72,-0.008, 74,-0.01, 76,-0.012, 78,-0.008, 80,-0.002, 82,-0.006, 84,-0.022, 86,-0.012, 88,-0.006],
  [64,-0.008, 66,-0.002, 68,-0.008, 70,-0.006, 72,-0.01, 74,-0.008, 76,-0.004, 78,0.0, 80,0.004, 82,-0.016, 84,-0.032, 86,-0.016, 88,-0.006, 90,0.003],
  [72,-0.012, 74,-0.013, 76,-0.012, 78,-0.008, 80,-0.002, 82,-0.022, 84,-0.027, 86,-0.014, 88,-0.01, 90,-0.005, 92,0.003, 94,0.01, 96,0.016],
  [76,-0.016, 78,-0.012, 80,-0.008, 82,-0.018, 84,-0.024, 86,-0.02, 88,-0.014, 90,-0.006, 92,0.002, 94,0.006, 96,0.012, 98,0.016, 100,0.02, 104,0.024],
  [78,-0.018, 80,-0.022, 82,-0.02],
  [84,-0.014, 86,-0.01, 88,-0.006, 90,-0.002, 92,0.004, 94,0.01, 96,0.016, 98,0.019, 100,0.022],
  [92,-0.012, 94,-0.002, 96,0.008, 98,0.015, 100,0.019, 102,0.022, 104,0.027, 106,0.027, 108,0.025],
  [100,0.033, 102,0.03, 104,0.024, 106,0.026, 108,0.03, 110,0.032, 112,0.033],
  [108,-0.018, 110,-0.007, 112,-0.034],
  [102,-0.004, 104,-0.006, 106,-0.002, 108,0.002, 110,0.008, 112,0.012, 114,0.015, 116,0.016, 118,0.014, 120,0.01, 122,0.004, 124,-0.002, 126,-0.004, 128,-0.002, 130,0.002, 132,0.008],
  [106,-0.006, 108,-0.004, 110,0.001, 112,0.006, 114,0.01, 116,0.013, 118,0.016, 120,0.016, 122,0.013, 124,0.006],
  [110,-0.008, 112,-0.004, 114,0.002, 116,0.007, 118,0.011, 120,0.013, 122,0.012, 124,0.009],
  [116,-0.015, 118,-0.012, 120,-0.011, 122,-0.011, 124,-0.011, 126,-0.015, 128,-0.019, 130,-0.024, 132,-0.027, 134,-0.019, 136,-0.018],
  [116,-0.02, 118,-0.019, 120,-0.019, 122,-0.019, 124,-0.018, 126,-0.025, 128,-0.033, 130,-0.04, 132,-0.045, 134,-0.047],
  [120,0.0, 122,0.0, 124,0.0, 126,0.0, 128,0.0, 130,0.0, 132,0.001, 134,0.005, 136,0.01, 138,0.014, 140,0.017, 142,0.02],
  [138,0.023, 142,0.023],
  [142,0.012, 146,0.013],
  [144,0.032, 146,0.031, 148,0.029, 150,0.028],
  [146,0.099, 148,0.096, 150,0.094, 152,0.092]
];

const energyPanels = [energyNoChiral, energyLO, energyN2LO, energyMinChiral];
const radiusPanels = [radiusNoChiral, radiusLO, radiusN2LO, radiusMinChiral];

const energyTitle = [{t: 'E', it: true}, {sub: 'theo'}, {t: ' \u2212 '}, {t: 'E', it: true}, {sub: 'exp'}, {t: ' (MeV)'}];
const radiusTitle = [{t: 'r', it: true}, {sub: 'ch', sup: 'theo'}, {t: ' \u2212 '}, {t: 'r', it: true}, {sub: 'ch', sup: 'exp'}, {t: ' (fm)'}];

// panel edges on the page
const xs = [142, 435, 727, 1020, 1313];
const ys = [13, 312, 610];
const FONT = '"DejaVu Sans", sans-serif';
const fig = document.getElementById('fig');

function toPoints(chain) {
  const pts = [];
  for (let i = 0; i < chain.length; i += 2) pts.push({x: chain[i], y: chain[i + 1]});
  return pts;
}

function minus(s) { return s.replace('-', '\u2212'); }

function partWidth(ctx, p, size) {
  const w = (txt, s, it) => { ctx.font = (it ? 'italic ' : '') + s + 'px ' + FONT; return ctx.measureText(txt).width; };
  if (p.sub !== undefined || p.sup !== undefined) {
    const s = size * 0.7;
    return Math.max(p.sub ? w(p.sub, s) : 0, p.sup ? w(p.sup, s) : 0) + 1;
  }
  return w(p.t, size, p.it);
}

function drawRich(ctx, parts, x, y, size, align) {
  let total = 0;
  parts.forEach(p => { total += partWidth(ctx, p, size); });
  let cx = align === 'right' ? x - total : align === 'center' ? x - total / 2 : x;
  ctx.textAlign = 'left';
  ctx.textBaseline = 'alphabetic';
  ctx.fillStyle = '#000';
  parts.forEach(p => {
    const pw = partWidth(ctx, p, size);
    if (p.sub !== undefined || p.sup !== undefined) {
      ctx.font = (size * 0.7) + 'px ' + FONT;
      if (p.sub) ctx.fillText(p.sub, cx, y + size * 0.24);
      if (p.sup) ctx.fillText(p.sup, cx, y - size * (p.sub ? 0.5 : 0.42));
    } else {
      ctx.font = (p.it ? 'italic ' : '') + size + 'px ' + FONT;
      ctx.fillText(p.t, cx, y);
    }
    cx += pw;
  });
}

function labelParts(name) {
  // "^x" raises the next character
  const parts = [];
  name.split(/\^(.)/).forEach((s, i) => {
    if (!s) return;
    parts.push(i % 2 ? {sup: s} : {t: s});
  });
  return parts;
}

function framePlugin(isTop, col) {
  return {
    id: 'frame',
    afterDatasetsDraw(chart) {
      const {ctx, chartArea: a, scales} = chart;
      const y0 = scales.y.getPixelForValue(0);
      ctx.save();
      ctx.strokeStyle = '#9a9a9a';
      ctx.lineWidth = 1.6;
      ctx.beginPath();
      ctx.moveTo(a.left, y0);
      ctx.lineTo(a.right, y0);
      ctx.stroke();
      ctx.restore();
    },
    afterDraw(chart) {
      const {ctx, chartArea: a, scales} = chart;
      ctx.save();
      ctx.strokeStyle = '#000';
      // ticks on all four sides, pointing inwards
      for (let n = 0; n <= 160; n += 5) {
        const px = scales.x.getPixelForValue(n);
        const major = n % 20 === 0;
        const len = major ? 10 : 5;
        ctx.lineWidth = major ? 1.6 : 1.2;
        ctx.beginPath();
        ctx.moveTo(px, a.bottom); ctx.lineTo(px, a.bottom - len);
        ctx.moveTo(px, a.top); ctx.lineTo(px, a.top + len);
        ctx.stroke();
      }
      const hi = isTop ? 10 : 12;
      for (let i = -8; i <= hi; i++) {
        const v = isTop ? i / 2 : i / 100;
        const major = isTop ? i % 4 === 0 : i % 5 === 0;
        const py = scales.y.getPixelForValue(v);
        const len = major ? 10 : 5;
        ctx.lineWidth = major ? 1.6 : 1.2;
        ctx.beginPath();
        ctx.moveTo(a.left, py); ctx.lineTo(a.left + len, py);
        ctx.moveTo(a.right, py); ctx.lineTo(a.right - len, py);
        ctx.stroke();
      }
      ctx.lineWidth = 1.6;
      ctx.strokeRect(a.left, a.top, a.right - a.left, a.bottom - a.top);
      // panel label
      drawRich(ctx, labelParts(panelNames[col]), a.right - 37, a.top + 44, 26, 'right');
      // y axis title on the first column
      if (col === 0) {
        const midY = (a.top + a.bottom) / 2 - (isTop ? 0 : 10);
        ctx.translate(isTop ? 77 : 41, midY);
        ctx.rotate(-Math.PI / 2);
        drawRich(ctx, isTop ? energyTitle : radiusTitle, 0, 0, 26, 'center');
      }
      ctx.restore();
    }
  };
}

function makePanel(row, col) {
  const isTop = row === 0;
  const padL = col === 0 ? 0 : 14;
  const padR = col === 3 ? 39 : 14;
  const padT = 4;
  const padB = isTop ? 4 : 0;
  const yW = col === 0 ? 142 : 0;
  const xH = isTop ? 0 : 63;
  const left = xs[col] - padL - yW;
  const top = ys[row] - padT;
  const width = xs[col + 1] + padR - left;
  const height = ys[row + 1] + (isTop ? padB : xH) - top;

  const canvas = document.createElement('canvas');
  canvas.width = width;
  canvas.height = height;
  canvas.style.left = left + 'px';
  canvas.style.top = top + 'px';
  canvas.style.width = width + 'px';
  canvas.style.height = height + 'px';
  fig.appendChild(canvas);

  const chains = isTop ? energyPanels[col] : radiusPanels[col];
  const datasets = chains.map(c => ({
    data: toPoints(c),
    borderColor: '#0000ff',
    borderWidth: 1.5,
    pointRadius: 0,
    fill: false,
    tension: 0
  }));

  const tickFont = {family: FONT, size: 25};

  new Chart(canvas.getContext('2d'), {
    type: 'line',
    data: {datasets},
    options: {
      responsive: false,
      animation: false,
      devicePixelRatio: 1,
      events: [],
      layout: {autoPadding: false, padding: {left: padL, right: padR, top: padT, bottom: padB}},
      plugins: {legend: {display: false}, tooltip: {enabled: false}},
      scales: {
        x: {
          type: 'linear', min: 0, max: 160,
          display: !isTop,
          grid: {display: false, drawTicks: false},
          border: {display: false},
          ticks: {font: tickFont, color: '#000', padding: 6, maxRotation: 0, autoSkip: false,
                  callback: v => String(v)},
          title: {display: true, text: 'N', color: '#000', padding: {top: 0, bottom: 0},
                  font: {family: FONT, size: 26, style: 'italic', lineHeight: 0.85}},
          afterBuildTicks: s => { s.ticks = (col === 3 ? nTicksLast : nTicks).map(v => ({value: v})); },
          afterFit: s => { s.height = xH; s.paddingLeft = 0; s.paddingRight = 0; }
        },
        y: {
          type: 'linear',
          min: isTop ? -4 : -0.08,
          max: isTop ? 5 : 0.12,
          display: col === 0,
          grid: {display: false, drawTicks: false},
          border: {display: false},
          ticks: {font: tickFont, color: '#000', padding: 9, autoSkip: false,
                  callback: v => isTop ? minus(String(v)) : minus(v.toFixed(2))},
          afterBuildTicks: s => { s.ticks = (isTop ? energyTicks : radiusTicks).map(v => ({value: v})); },
          afterFit: s => { s.width = yW; s.paddingTop = 0; s.paddingBottom = 0; }
        }
      }
    },
    plugins: [framePlugin(isTop, col)]
  });
}

for (let r = 0; r < 2; r++) {
  for (let c = 0; c < 4; c++) makePanel(r, c);
}
</script>
</body>
</html>
